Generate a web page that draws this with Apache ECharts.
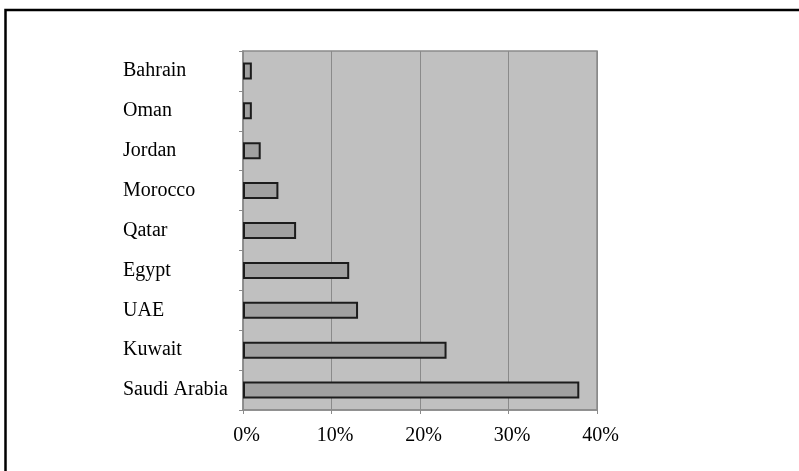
<!DOCTYPE html>
<html>
<head>
<meta charset="utf-8">
<script src="https://cdn.jsdelivr.net/npm/echarts@6/dist/echarts.min.js"></script>
<style>
  html, body { margin: 0; padding: 0; background: #ffffff; }
  #chart { width: 799px; height: 471px; }
</style>
</head>
<body>
<div id="chart"></div>
<script>
// Countries listed top to bottom, with their shares in percent
var countries = ['Bahrain', 'Oman', 'Jordan', 'Morocco', 'Qatar', 'Egypt', 'UAE', 'Kuwait', 'Saudi Arabia'];
var shares = [1, 1, 2, 4, 6, 12, 13, 23, 38];
var percentTicks = [0, 10, 20, 30, 40];

var serif = '"Liberation Serif", "DejaVu Serif", serif';

var chart = echarts.init(document.getElementById('chart'), null, { renderer: 'canvas' });

chart.setOption({
  animation: false,
  backgroundColor: '#ffffff',
  graphic: [{
    type: 'rect',
    shape: { x: 5.5, y: 10, width: 1000, height: 800 },
    style: { fill: 'none', stroke: '#000000', lineWidth: 2.5 },
    silent: true,
    z: 100
  }],
  grid: {
    left: 243,
    right: 202,
    top: 51,
    bottom: 61,
    show: true,
    backgroundColor: '#c0c0c0',
    borderColor: '#8a8a8a',
    borderWidth: 1.5
  },
  xAxis: {
    type: 'value',
    min: percentTicks[0],
    max: percentTicks[percentTicks.length - 1],
    interval: 10,
    axisLine: { show: true, lineStyle: { color: '#8a8a8a', width: 1.5 } },
    axisTick: { show: true, length: 4, lineStyle: { color: '#8a8a8a' } },
    splitLine: { show: true, lineStyle: { color: '#8a8a8a', width: 1 } },
    axisLabel: {
      margin: 16,
      padding: [0, 0, 0, 7],
      color: '#000000',
      fontFamily: serif,
      fontSize: 20,
      formatter: function (v) { return v + '%'; }
    }
  },
  yAxis: {
    type: 'category',
    inverse: true,
    data: countries,
    axisLine: { show: true, lineStyle: { color: '#8a8a8a', width: 1.5 } },
    axisTick: { show: true, length: 4, lineStyle: { color: '#8a8a8a' } },
    splitLine: { show: false },
    axisLabel: {
      align: 'left',
      margin: 120,
      color: '#000000',
      fontFamily: serif,
      fontSize: 20
    }
  },
  series: [{
    type: 'bar',
    data: shares,
    barWidth: 17,
    itemStyle: {
      color: '#a0a0a0',
      borderColor: '#1c1c1c',
      borderWidth: 2
    }
  }]
});
</script>
</body>
</html>
